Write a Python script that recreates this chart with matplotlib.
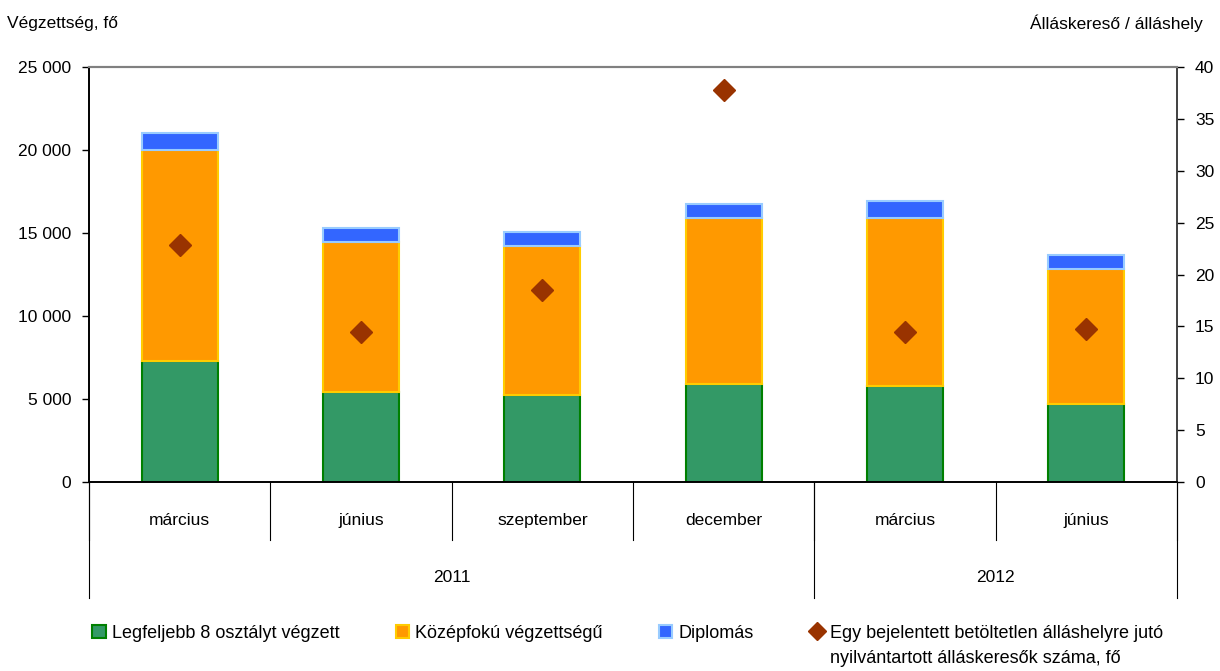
import numpy as np
import matplotlib
matplotlib.use('Agg')
import matplotlib.pyplot as plt
from matplotlib.patches import Patch
from matplotlib.lines import Line2D
import matplotlib.transforms as mtransforms

plt.rcParams['font.family'] = ['Liberation Sans', 'DejaVu Sans']
plt.rcParams['font.size'] = 12.5

# adatok
honapok = ['március', 'június', 'szeptember', 'december', 'március', 'június']
evek = ['2011', '2012']
ev_hossz = [4, 2]
alap = [7300, 5400, 5250, 5900, 5800, 4700]          # Legfeljebb 8 osztályt végzett
kozep = [12700, 9050, 8950, 10000, 10100, 8150]      # Középfokú végzettségű
diploma = [1000, 850, 850, 850, 1000, 850]           # Diplomás
arany = [22.8, 14.5, 18.5, 37.8, 14.5, 14.7]         # álláskereső / álláshely

bal_tick = [0, 5000, 10000, 15000, 20000, 25000]
bal_tick_cimke = ['0', '5 000', '10 000', '15 000', '20 000', '25 000']
jobb_tick = [0, 5, 10, 15, 20, 25, 30, 35, 40]

fig = plt.figure(figsize=(12.2, 6.71), dpi=100)
ax = fig.add_axes([0.073, 0.2817, 0.8918, 0.6184])
ax2 = ax.twinx()

x = np.arange(len(honapok))
w = 0.42
alap_a = np.array(alap)
kozep_a = np.array(kozep)
ax.bar(x, alap, w, color='#339966', edgecolor='#008000', linewidth=1.5, zorder=2)
ax.bar(x, kozep, w, bottom=alap_a, color='#FF9900', edgecolor='#FFCC00', linewidth=1.5, zorder=2)
ax.bar(x, diploma, w, bottom=alap_a + kozep_a, color='#3366FF', edgecolor='#99CCFF', linewidth=1.5, zorder=2)
ax2.plot(x, arany, linestyle='none', marker='D', markersize=11, color='#993300', zorder=3)

ax.set_xlim(-0.5, len(honapok) - 0.5)
ax.set_ylim(0, 25000)
ax2.set_ylim(0, 40)
ax.set_yticks(bal_tick)
ax.set_yticklabels(bal_tick_cimke)
ax2.set_yticks(jobb_tick)
ax.set_xticks([])
ax.tick_params(axis='y', direction='out', length=5, width=1, pad=8, labelsize=12.5)
ax2.tick_params(axis='y', direction='out', length=5, width=1, pad=8, labelsize=12.5)

for a in (ax, ax2):
    a.spines['top'].set_color('#808080')
    a.spines['top'].set_linewidth(1.5)
    a.spines['left'].set_linewidth(1.2)
    a.spines['right'].set_linewidth(1.2)
    a.spines['right'].set_color('#404040')
    a.spines['bottom'].set_linewidth(1.2)

# kategória tengely: hónapok és évek
tr = mtransforms.blended_transform_factory(ax.transData, ax.transAxes)
for i in range(len(honapok) + 1):
    ax.plot([i - 0.5, i - 0.5], [0, -0.14], transform=tr, color='black', lw=0.8, clip_on=False)
for i, h in enumerate(honapok):
    ax.text(i, -0.092, h, transform=tr, ha='center', va='center', fontsize=12.5)
kezd = 0
for ev, n in zip(evek, ev_hossz):
    ax.plot([kezd - 0.5, kezd - 0.5], [0, -0.28], transform=tr, color='black', lw=0.8, clip_on=False)
    ax.text(kezd + n / 2 - 0.5, -0.23, ev, transform=tr, ha='center', va='center', fontsize=12.5)
    kezd += n
ax.plot([kezd - 0.5, kezd - 0.5], [0, -0.28], transform=tr, color='black', lw=0.8, clip_on=False)

fig.text(0.006, 0.965, 'Végzettség, fő', ha='left', va='center', fontsize=12.5)
fig.text(0.986, 0.965, 'Álláskereső / álláshely', ha='right', va='center', fontsize=12.5)

kezelok = [
    Patch(facecolor='#339966', edgecolor='#008000', linewidth=1.5),
    Patch(facecolor='#FF9900', edgecolor='#FFCC00', linewidth=1.5),
    Patch(facecolor='#3366FF', edgecolor='#99CCFF', linewidth=1.5),
    Line2D([], [], linestyle='none', marker='D', markersize=9, color='#993300'),
]
cimkek = ['Legfeljebb 8 osztályt végzett', 'Középfokú végzettségű', 'Diplomás',
          'Egy bejelentett betöltetlen álláshelyre jutó']
leg = fig.legend(kezelok, cimkek, ncol=4, loc='upper left', bbox_to_anchor=(0.0755, 0.069),
                 frameon=False, handlelength=0.75, handleheight=0.75, handletextpad=0.35,
                 columnspacing=3.1, fontsize=13, borderaxespad=0, borderpad=0)

fig.canvas.draw()
utolso = leg.get_texts()[-1]
bb = utolso.get_window_extent().transformed(fig.transFigure.inverted())
fig.text(bb.x0, bb.y0 - 0.012, 'nyilvántartott álláskeresők száma, fő', ha='left', va='top', fontsize=13)

fig.savefig('out.png', dpi=100)
